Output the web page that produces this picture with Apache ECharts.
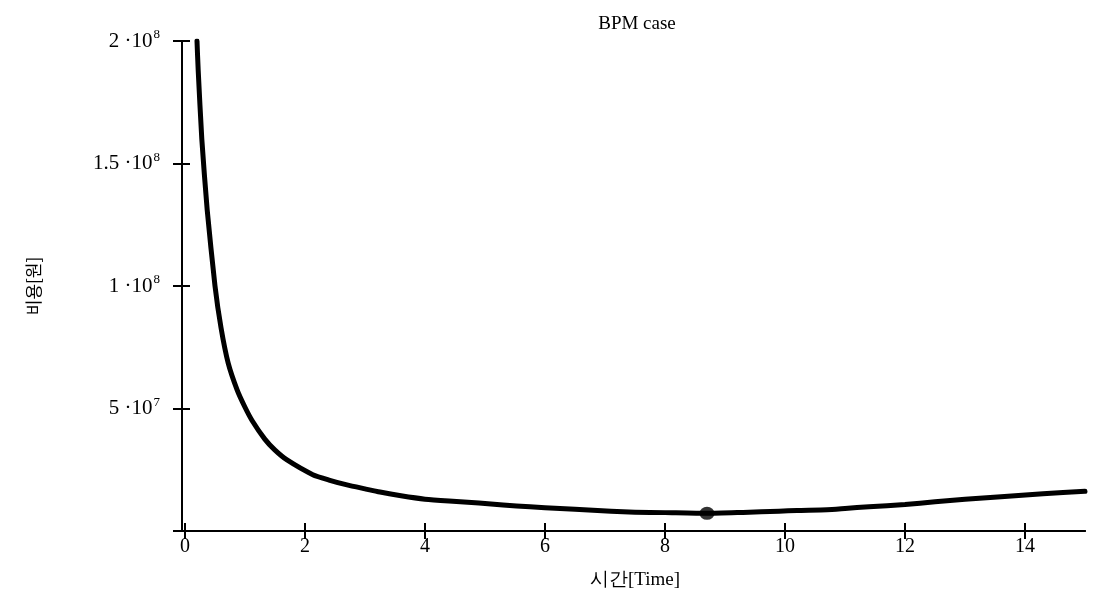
<!DOCTYPE html>
<html>
<head>
<meta charset="utf-8">
<script src="https://cdn.jsdelivr.net/npm/echarts@6/dist/echarts.min.js"></script>
<style>
	html, body {margin: 0;padding: 0;background: #fff;}
	#main {width: 1094px;height: 595px;}
</style>
</head>
<body>
<div id="main"></div>
<script>
	// 데이터
	var timeValues = [0.2, 0.22, 0.28, 0.37, 0.5, 0.6, 0.72, 0.87, 1.0, 1.12, 1.33, 1.5, 1.7, 2.13, 2.4, 2.7, 3.0, 3.25, 3.6, 4.0, 4.4, 4.9, 5.3, 5.75, 6.0, 6.5, 7.1, 7.5, 8.0, 8.7, 9.3, 9.9, 10.2, 10.7, 11.0, 11.4, 12.0, 12.5, 13.0, 13.6, 14.3, 15.0];
	var costValues = [2.0e8, 1.88e8, 1.6e8, 1.31e8, 1.0e8, 8.3e7, 6.85e7, 5.75e7, 5.05e7, 4.5e7, 3.75e7, 3.3e7, 2.9e7, 2.3e7, 2.08e7, 1.88e7, 1.72e7, 1.59e7, 1.44e7, 1.3e7, 1.22e7, 1.14e7, 1.06e7, 9.9e6, 9.5e6, 8.9e6, 8.1e6, 7.7e6, 7.5e6, 7.2e6, 7.6e6, 8.1e6, 8.4e6, 8.7e6, 9.2e6, 9.9e6, 1.08e7, 1.19e7, 1.3e7, 1.4e7, 1.52e7, 1.62e7];
	var minTime = [8.7];
	var minCost = [7.2e6];
	var xTicks = [0, 2, 4, 6, 8, 10, 12, 14];
	var yTicks = [0, 5e7, 1e8, 1.5e8, 2e8];
	var yTickMantissa = ['', '5', '1', '1.5', '2'];
	var yTickExponent = ['', '7', '8', '8', '8'];

	var font = '"Liberation Serif", "DejaVu Serif", serif';

	var curve = timeValues.map(function (t, i) { return [t, costValues[i]]; });
	var minPoint = minTime.map(function (t, i) { return [t, minCost[i]]; });

	function yLabel(value) {
		var i = yTicks.indexOf(value);
		if (i < 0 || !yTickMantissa[i]) return '';
		return '{m|' + yTickMantissa[i] + ' ·10}{e|' + yTickExponent[i] + '}';
	}

	var myChart = echarts.init(document.getElementById('main'));
	var baseX = {
		type: 'value',
		min: 0,
		max: 15,
		splitLine: {show: false},
		axisLine: {onZero: false, lineStyle: {color: '#000', width: 2}}
	};
	var baseY = {
		type: 'value',
		min: 0,
		max: 2e8,
		interval: 5e7,
		position: 'left',
		offset: 3,
		splitLine: {show: false},
		axisLine: {onZero: false, lineStyle: {color: '#000', width: 2}}
	};
	var option = {
		backgroundColor: '#fff',
		animation: false,
		title: {
			text: 'BPM case',
			left: 632,
			top: 10,
			textAlign: 'center',
			textStyle: {fontFamily: font, fontSize: 19, fontWeight: 'normal', color: '#000'}
		},
		grid: {left: 185, right: 9, top: 41, bottom: 64},
		xAxis: [
			Object.assign({}, baseX, {
				position: 'bottom',
				name: '시간[Time]',
				nameLocation: 'middle',
				nameGap: 40,
				nameTextStyle: {fontFamily: font, fontSize: 19, color: '#000'},
				axisTick: {show: true, inside: false, length: 8, customValues: xTicks, lineStyle: {color: '#000', width: 2}},
				axisLabel: {fontFamily: font, fontSize: 20, color: '#000', margin: 6, customValues: xTicks}
			}),
			Object.assign({}, baseX, {
				position: 'bottom',
				axisTick: {show: true, inside: true, length: 8, customValues: xTicks, lineStyle: {color: '#000', width: 2}},
				axisLabel: {show: false}
			})
		],
		yAxis: [
			Object.assign({}, baseY, {
				name: '비용[원]',
				nameLocation: 'middle',
				nameGap: 140,
				nameRotate: 90,
				nameTextStyle: {fontFamily: '"Noto Sans CJK KR", sans-serif', fontSize: 17, color: '#000'},
				axisTick: {show: true, inside: false, length: 9, lineStyle: {color: '#000', width: 2}},
				axisLabel: {
					margin: 22,
					formatter: yLabel,
					rich: {
						m: {fontFamily: font, fontSize: 21, color: '#000'},
						e: {fontFamily: font, fontSize: 13, color: '#000', padding: [0, 0, 12, 1]}
					}
				}
			}),
			Object.assign({}, baseY, {
				axisTick: {show: true, inside: true, length: 8, lineStyle: {color: '#000', width: 2}},
				axisLabel: {show: false}
			})
		],
		series: [
			{
				name: 'BPM case',
				type: 'line',
				data: curve,
				smooth: 0.2,
				showSymbol: false,
				clip: true,
				lineStyle: {color: '#000', width: 5, join: 'round', cap: 'round'}
			},
			{
				name: 'minimum',
				type: 'scatter',
				data: minPoint,
				symbol: 'circle',
				symbolSize: [15, 13],
				itemStyle: {color: '#000'}
			}
		]
	};
	myChart.setOption(option);
</script>
</body>
</html>
